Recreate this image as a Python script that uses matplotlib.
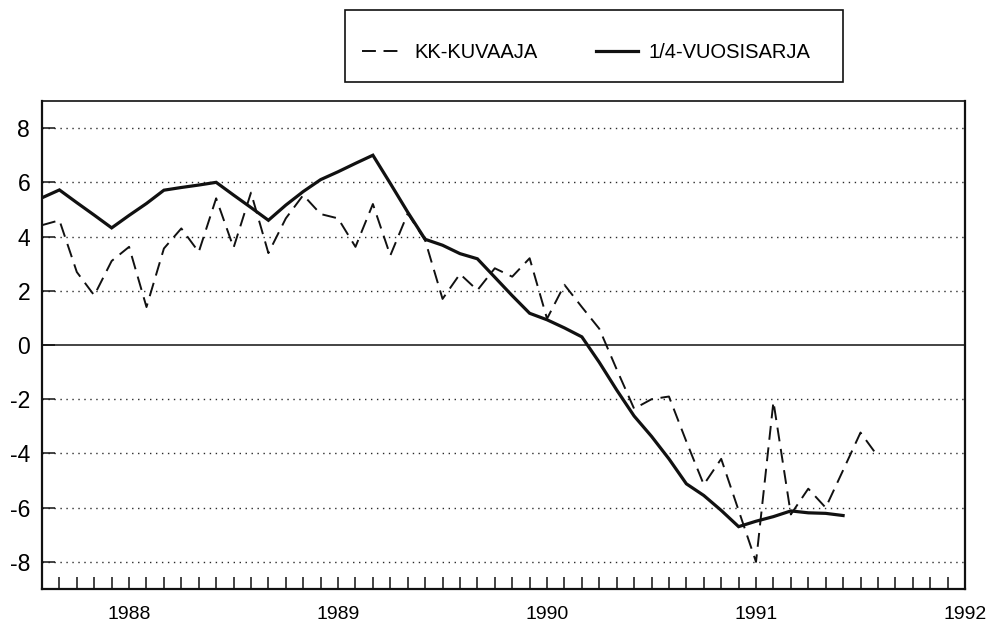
import numpy as np
import matplotlib
matplotlib.use("Agg")
import matplotlib.pyplot as plt
from matplotlib.lines import Line2D
from matplotlib.patches import Rectangle

plt.rcParams['font.family'] = ['Liberation Sans', 'DejaVu Sans']
plt.rcParams['lines.scale_dashes'] = False

# month index: 0 = January 1988
kk_months = list(range(-5, 44))
kk_values = [4.42, 4.60, 2.69, 1.83, 3.10, 3.62, 1.40, 3.56, 4.30, 3.43,
             5.41, 3.59, 5.62, 3.39, 4.67, 5.53, 4.83, 4.67, 3.62, 5.20,
             3.30, 4.85, 3.86, 1.70, 2.62, 2.02, 2.83, 2.52, 3.20, 0.97,
             2.22, 1.40, 0.60, -0.90, -2.35, -2.00, -1.90, -3.56, -5.15, -4.20,
             -6.10, -8.00, -2.09, -6.25, -5.30, -6.00, -4.62, -3.23, -4.11]

q_months = list(range(-5, 42))
q_values = [5.43, 5.72, 5.25, 4.79, 4.32, 4.78, 5.22, 5.71, 5.81, 5.90,
            6.00, 5.53, 5.07, 4.60, 5.16, 5.66, 6.10, 6.39, 6.70, 7.00,
            5.96, 4.90, 3.90, 3.68, 3.37, 3.18, 2.50, 1.82, 1.17, 0.93,
            0.63, 0.30, -0.64, -1.66, -2.62, -3.37, -4.20, -5.12, -5.55, -6.10,
            -6.70, -6.50, -6.33, -6.12, -6.19, -6.21, -6.29]

year_labels = ['1988', '1989', '1990', '1991', '1992']
year_pos = [0, 12, 24, 36, 48]
y_ticks = [-8, -6, -4, -2, 0, 2, 4, 6, 8]

W, H = 989, 625
fig = plt.figure(figsize=(W / 100, H / 100), dpi=100)
ax = fig.add_axes([42 / W, 1 - 589 / H, (965 - 42) / W, (589 - 101) / H])

ink = '#111111'
for yv in y_ticks:
    if yv == 0:
        ax.axhline(0, color=ink, lw=1.1, zorder=1)
    else:
        ax.axhline(yv, color='#2a2a2a', lw=1.0, linestyle=(0, (1.0, 3.3)), zorder=1)

ln_kk, = ax.plot(kk_months, kk_values, color=ink, lw=1.4, dashes=(10, 5.5), zorder=3)
ln_q, = ax.plot(q_months, q_values, color=ink, lw=2.3, zorder=4,
                solid_joinstyle='miter')

ax.set_xlim(-5, 48)
ax.set_ylim(-9, 9)

months = list(range(-4, 49))
ax.set_xticks(months)
ax.set_xticklabels([year_labels[year_pos.index(m)] if m in year_pos else '' for m in months])
ax.tick_params(axis='x', direction='in', length=9, width=1.1, color=ink,
               labelsize=14, pad=12.5)
ax.set_yticks(y_ticks)
ax.set_yticklabels([str(v) for v in y_ticks])
ax.tick_params(axis='y', direction='in', length=9, width=1.1, color=ink,
               labelsize=16.5, pad=8.5)

for s in ['left', 'bottom', 'right']:
    ax.spines[s].set_linewidth(1.6)
    ax.spines[s].set_color(ink)
ax.spines['top'].set_linewidth(1.2)
ax.spines['top'].set_color(ink)

# legend box
fig.patches.append(Rectangle((345 / W, 1 - 82 / H), (843 - 345) / W, (82 - 10) / H,
                             transform=fig.transFigure, fill=False,
                             edgecolor=ink, lw=1.2))
h1 = Line2D([], [], color=ink, lw=1.4, dashes=(10, 5.5))
h2 = Line2D([], [], color=ink, lw=2.3)
fig.legend([h1, h2], ['KK-KUVAAJA', '1/4-VUOSISARJA'], ncol=2, frameon=False,
           loc='center left', bbox_to_anchor=(362 / W, 1 - 53 / H),
           fontsize=14.5, handlelength=2.1, handletextpad=0.5, columnspacing=2.9,
           borderpad=0, borderaxespad=0)

fig.savefig('out.png', dpi=100)
